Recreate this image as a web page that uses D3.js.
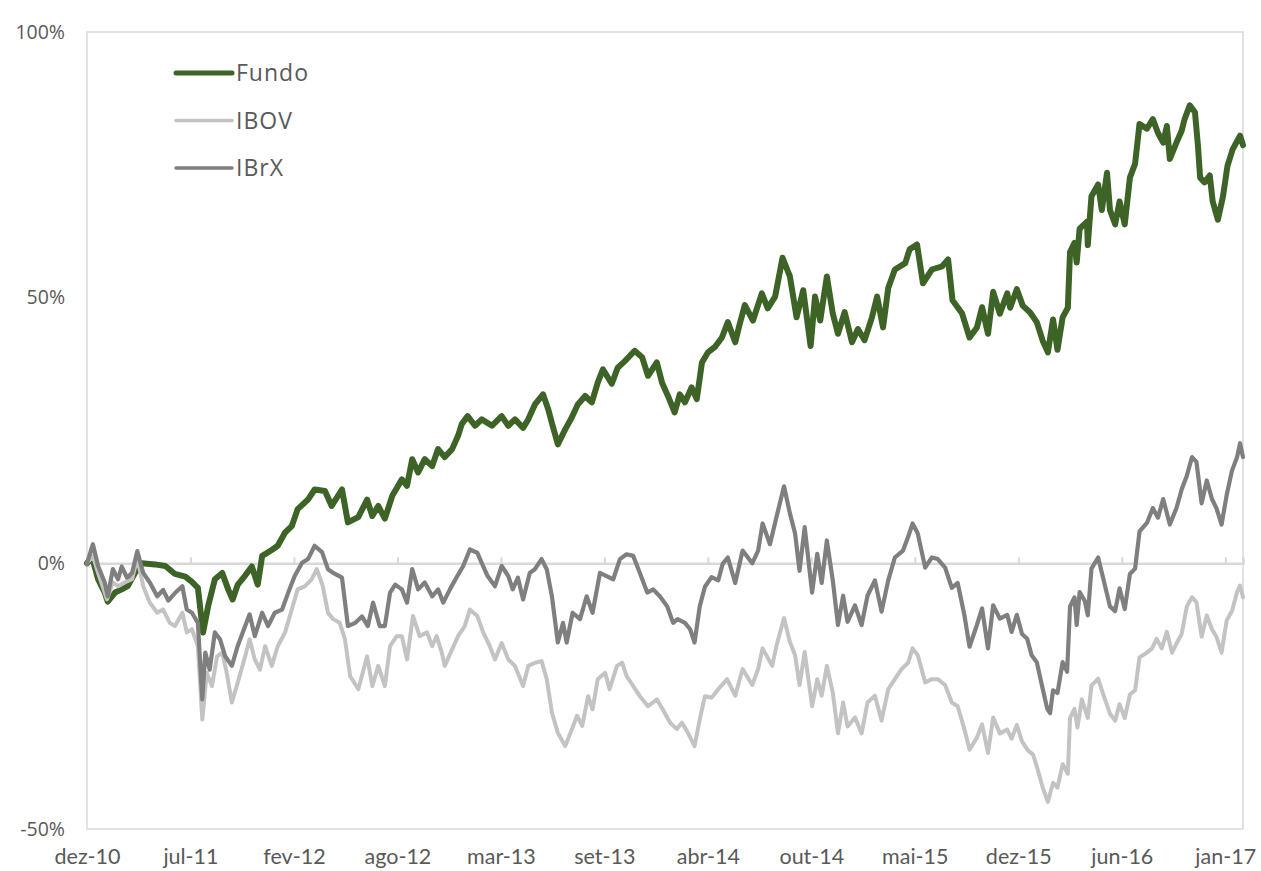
<!DOCTYPE html>
<html>
<head>
<meta charset="utf-8">
<script src="https://cdn.jsdelivr.net/npm/d3@7"></script>
<style>
  body { margin: 0; background: #fff; }
  text { font-family: Lato, "Open Sans", sans-serif; fill: #595959; }
</style>
</head>
<body>
<div id="chart"></div>
<script>
// labels of the x axis (one every 140 trading days)
var tickDays = [0, 140, 280, 420, 560, 700, 840, 980, 1120, 1260, 1400, 1540];
var tickLabels = ["dez-10", "jul-11", "fev-12", "ago-12", "mar-13", "set-13",
                  "abr-14", "out-14", "mai-15", "dez-15", "jun-16", "jan-17"];
var yTicks = [-50, 0, 50, 100];
var seriesNames = ["Fundo", "IBOV", "IBrX"];

// [trading day, accumulated return %]
var fundo = [
  [0,0],[7,1.1],[15,-3],[24,-5.5],[28,-7.2],[38,-5.5],[47,-4.9],[55,-4.3],[65,-1.8],[74,0],
  [92,-0.2],[106,-0.5],[119,-2],[133,-2.5],[142,-3.5],[150,-4.6],[157,-13],[164,-8],[173,-3],
  [183,-1.8],[191,-4.9],[197,-6.8],[204,-4],[214,-2.3],[223,-0.6],[231,-4],[237,1.4],[250,2.5],
  [258,3.3],[268,5.8],[277,7],[285,10.2],[299,12],[308,13.9],[322,13.6],[331,10.8],[345,13.9],
  [353,7.7],[367,8.7],[379,12],[386,8.9],[394,10.8],[403,8.4],[413,12.7],[426,15.8],[433,14.6],
  [440,19.6],[448,17.1],[457,19.6],[467,18.3],[475,21.5],[484,20],[494,21.5],[502,24],[507,26.2],
  [515,27.7],[525,25.9],[534,27.1],[548,25.9],[561,27.7],[570,25.9],[579,27.1],[590,25.5],
  [597,27.1],[606,29.9],[617,31.8],[624,29],[630,25.9],[637,22.4],[647,25.2],[656,27.5],
  [664,29.9],[674,31.5],[683,30.3],[691,34],[698,36.5],[710,33.8],[718,36.8],[728,38.1],
  [741,40],[751,38.8],[759,35.3],[771,37.8],[778,34],[786,31.5],[795,28.4],[802,31.8],
  [809,30.3],[818,33.1],[825,30.9],[832,37.8],[840,39.7],[850,40.8],[859,42.5],[867,45.4],
  [877,41.6],[883,45],[890,48.6],[901,45.7],[913,50.8],[921,48],[931,50.2],[941,57.5],[951,54],
  [960,46.3],[969,51.4],[979,40.9],[985,50.2],[992,45.7],[1001,54],[1009,47],[1016,43.2],
  [1025,47.3],[1035,41.6],[1043,44.1],[1052,42],[1062,46.3],[1069,50.2],[1077,44.4],[1084,51.8],
  [1093,55.3],[1107,56.5],[1113,59.1],[1123,60],[1131,52.7],[1143,55.3],[1157,55.9],[1165,57.2],
  [1171,49.5],[1184,47],[1194,42.5],[1204,44.4],[1211,48.2],[1219,43.2],[1226,51.1],[1235,47],
  [1245,50.8],[1249,48.1],[1258,51.6],[1266,48.5],[1276,47.2],[1285,45.4],[1293,41.9],[1300,39.7],
  [1307,45.9],[1313,40.2],[1320,46.3],[1327,48.1],[1330,58.6],[1336,60.3],[1339,56.6],[1343,63],
  [1353,64.3],[1354,59.9],[1359,69.1],[1368,71.3],[1373,66.5],[1380,73.5],[1384,66.5],[1391,63.8],
  [1397,68.1],[1404,63.8],[1411,72.6],[1418,75.2],[1424,82.7],[1434,81.8],[1442,83.6],[1449,81],
  [1456,79.2],[1461,82.3],[1465,76.1],[1474,79.2],[1481,81.4],[1485,83.6],[1492,86.2],[1499,84.9],
  [1503,78.7],[1506,72.6],[1512,71.7],[1519,73],[1523,68.1],[1530,64.7],[1537,69.1],[1543,74.8],
  [1550,77.9],[1560,80.5],[1564,78.7]
];

var ibov = [
  [0,0],[8,1.4],[15,-1.8],[27,-6.8],[35,-3.6],[42,-4.3],[51,-3.6],[61,-3],[68,1],[76,-4.3],
  [85,-7.4],[95,-9.3],[103,-8.7],[112,-11.2],[119,-11.8],[129,-9.3],[135,-13],[142,-12.4],
  [150,-15.6],[156,-29.4],[162,-20.6],[169,-23.1],[176,-17.5],[183,-16.8],[189,-20.6],[196,-26.2],
  [204,-22.4],[214,-17.5],[220,-14.3],[227,-18.1],[234,-20],[241,-15.6],[250,-19.3],[258,-15.6],
  [268,-13],[277,-8.7],[285,-4.9],[295,-4.3],[304,-3],[311,-1.1],[319,-4.3],[326,-9.3],[333,-10.5],
  [342,-11.2],[349,-14.3],[356,-21.2],[367,-23.7],[379,-17.5],[386,-23.1],[394,-19.3],[403,-23.1],
  [410,-15.6],[419,-13.7],[426,-13.7],[433,-18.1],[441,-9.9],[450,-13.7],[460,-13],[467,-15.6],
  [473,-13.7],[480,-16.8],[484,-19.3],[494,-16.2],[502,-13.7],[511,-11.8],[518,-8.7],[528,-9.9],
  [536,-13],[545,-15.6],[552,-18.1],[561,-15],[570,-18.1],[579,-19.3],[590,-23.1],[597,-19.3],
  [606,-18.7],[615,-18.4],[622,-21.8],[629,-28.1],[637,-31.9],[647,-34.4],[656,-31.2],[663,-28.7],
  [670,-30.6],[678,-25],[684,-27.5],[691,-21.8],[701,-20.6],[707,-23.7],[717,-19.3],[724,-18.7],
  [730,-21.2],[739,-23.1],[748,-25],[759,-26.9],[771,-25.6],[779,-27.5],[789,-30],[798,-31.2],
  [805,-30],[813,-31.9],[822,-34.4],[829,-29.4],[836,-25],[845,-25.3],[854,-23.7],[866,-21.8],
  [877,-24.9],[887,-19.9],[900,-22.9],[908,-19.9],[914,-16],[927,-19.3],[933,-15.4],[943,-10.3],
  [951,-14.8],[958,-17.3],[964,-22.9],[971,-16.7],[981,-26.9],[988,-21.8],[994,-24.9],[1001,-19.3],
  [1009,-24.3],[1016,-32],[1023,-26.2],[1029,-30.7],[1039,-29],[1048,-32],[1056,-26.2],[1066,-24.9],
  [1075,-29.6],[1084,-23.7],[1093,-21.8],[1102,-19.9],[1111,-18.7],[1117,-16],[1124,-17.3],
  [1134,-22.4],[1143,-21.8],[1151,-21.8],[1161,-22.9],[1170,-26.2],[1178,-26.9],[1187,-31.2],
  [1194,-35.1],[1204,-32.8],[1211,-30.3],[1219,-35.7],[1226,-29],[1235,-32],[1245,-31.3],[1251,-33],
  [1258,-30.4],[1265,-33.5],[1273,-35.2],[1280,-36],[1286,-38.7],[1293,-42.2],[1300,-44.9],
  [1307,-41.3],[1313,-42.2],[1320,-37.8],[1327,-39.6],[1330,-29.1],[1336,-27.4],[1340,-30.9],
  [1346,-25.6],[1354,-29.1],[1359,-23],[1368,-21.7],[1375,-24.7],[1384,-28.3],[1391,-29.6],
  [1397,-26.5],[1404,-29.1],[1411,-24.7],[1418,-23.9],[1424,-17.7],[1434,-16.8],[1441,-16],
  [1447,-14.2],[1454,-16],[1461,-12.9],[1468,-16.8],[1474,-15.1],[1481,-13.3],[1488,-8.1],
  [1495,-6.4],[1501,-7.3],[1508,-13.8],[1515,-9.8],[1522,-12.4],[1528,-13.8],[1535,-16.8],
  [1542,-10.7],[1549,-9],[1556,-5.4],[1560,-4.2],[1564,-6.4]
];

var ibrx = [
  [0,0],[8,3.6],[15,-0.5],[24,-3.6],[28,-6.2],[35,-1.1],[42,-3],[47,-0.6],[54,-2.7],[61,-1.8],
  [68,2.3],[76,-1.8],[85,-3.6],[95,-6.2],[103,-5],[110,-7],[119,-5.6],[129,-4.3],[135,-8.7],
  [142,-9.3],[150,-11.2],[156,-25.6],[160,-16.8],[166,-20],[173,-13],[180,-14.3],[187,-17.5],
  [196,-19.3],[204,-15.5],[214,-11.8],[220,-9.6],[227,-13.7],[237,-9.3],[245,-11.8],[254,-9.3],
  [264,-8.7],[272,-5.6],[281,-2.4],[291,0.1],[299,0.8],[308,3.3],[318,2.1],[326,-1.1],[333,-1.8],
  [345,-2.7],[353,-11.8],[363,-11.2],[372,-10],[380,-11.8],[387,-7.4],[396,-11.8],[403,-11.8],
  [410,-5.5],[417,-4],[426,-4.9],[433,-7.4],[440,-1.1],[448,-4.9],[457,-3.6],[467,-6.2],[475,-4.9],
  [482,-7.4],[491,-4.9],[501,-2.4],[509,-0.5],[518,2.6],[528,2],[534,0.1],[542,-2.4],[552,-4.3],
  [561,-0.5],[570,-2.4],[576,-4.9],[583,-2.7],[590,-6.8],[599,-1.8],[606,-1.1],[615,0.8],
  [622,-1.1],[629,-6.2],[637,-14.9],[644,-11.2],[649,-14.9],[657,-9.3],[667,-10.5],[676,-6.2],
  [684,-9.3],[694,-1.8],[703,-2.4],[712,-3],[721,0.8],[730,1.7],[739,1.4],[748,-1.8],[758,-5.5],
  [766,-4.9],[775,-6.2],[785,-8.1],[793,-11.2],[799,-10.5],[809,-11.2],[816,-12.4],[822,-14.9],
  [829,-8.1],[836,-4.4],[845,-2.6],[854,-3.2],[860,-0.1],[867,1.1],[877,-3.7],[887,2.4],[900,0],
  [908,2.4],[914,7.5],[924,3.6],[933,8.8],[943,14.5],[951,9.4],[958,5.6],[964,-1.4],[971,6.8],
  [981,-5.5],[988,1.8],[994,-3.7],[1001,4.3],[1009,-3.2],[1016,-11.6],[1023,-6.1],[1029,-11],
  [1039,-7.9],[1048,-11.6],[1056,-6.1],[1066,-3.2],[1075,-9.1],[1084,-3.2],[1093,1.1],[1104,2.4],
  [1111,5],[1117,7.5],[1124,5.6],[1134,-0.8],[1143,1.1],[1151,0.8],[1161,-0.8],[1170,-4.6],
  [1178,-3.7],[1187,-9.7],[1194,-15.7],[1204,-11.6],[1211,-8.5],[1219,-16],[1226,-7.9],[1235,-10.4],
  [1245,-9.7],[1251,-12.9],[1258,-9.7],[1265,-13.3],[1272,-14.2],[1278,-17.3],[1285,-18.6],
  [1292,-23],[1299,-27.3],[1303,-28.2],[1307,-23.9],[1313,-24.4],[1320,-18.6],[1326,-20.4],
  [1330,-8.1],[1336,-6.4],[1339,-11.6],[1343,-5.4],[1350,-7.1],[1354,-9.8],[1359,-1],[1368,1.1],
  [1375,-2.9],[1384,-8.1],[1391,-9],[1397,-4.7],[1404,-8.6],[1411,-2],[1418,-1],[1424,6],
  [1434,7.6],[1442,10.4],[1449,8.6],[1456,12.1],[1465,7.3],[1474,10.4],[1481,13.9],[1488,16.5],
  [1495,20],[1501,19.1],[1508,11.3],[1515,15.6],[1522,12.1],[1528,10.4],[1535,7.3],[1542,12.9],
  [1549,17.4],[1556,20],[1560,22.6],[1564,20]
];

var colors = {Fundo: "#3e6327", IBOV: "#c3c3c3", IBrX: "#7f7f7f"};
var widths = {Fundo: 6, IBOV: 4, IBrX: 4.2};

var margin = {top: 32, right: 18, bottom: 42, left: 87},
    width = 1261 - margin.left - margin.right,
    height = 871 - margin.top - margin.bottom;

var svg = d3.select("#chart")
  .append("svg")
    .attr("width", 1261)
    .attr("height", 871)
  .append("g")
    .attr("transform", "translate(" + margin.left + "," + margin.top + ")");

var x = d3.scaleLinear()
    .domain([0, d3.max(fundo, function(d) { return d[0]; })])
    .range([0, width]);

var y = d3.scaleLinear()
    .domain([-50, 100])
    .range([height, 0]);

// plot frame
svg.append("rect")
    .attr("x", 0).attr("y", 0)
    .attr("width", width).attr("height", height)
    .attr("fill", "none")
    .attr("stroke", "#d9d9d9")
    .attr("stroke-width", 1.5);

// Y axis labels
var yAxis = svg.append("g")
    .call(d3.axisLeft(y).tickValues(yTicks).tickSize(0).tickPadding(22)
      .tickFormat(function(d) { return d + "%"; }));
yAxis.select(".domain").remove();
yAxis.selectAll("text")
    .style("font-family", "'Open Sans', sans-serif")
    .style("font-size", "19.5px")
    .style("fill", "#595959");

// X axis labels at the bottom
var xAxis = svg.append("g")
    .attr("transform", "translate(0," + height + ")")
    .call(d3.axisBottom(x).tickValues(tickDays).tickSize(0).tickPadding(20)
      .tickFormat(function(d, i) { return tickLabels[i]; }));
xAxis.select(".domain").remove();
xAxis.selectAll("text").style("font-size", "21.5px").style("fill", "#595959");

// zero line with small tick marks
var zeroAxis = svg.append("g")
    .attr("transform", "translate(0," + y(0) + ")")
    .call(d3.axisTop(x).tickValues(tickDays).tickSize(6).tickFormat(""));
zeroAxis.select(".domain").attr("stroke", "#d9d9d9").attr("stroke-width", 2.5);
zeroAxis.selectAll("line").attr("stroke", "#d9d9d9").attr("stroke-width", 2);

var line = d3.line()
    .x(function(d) { return x(d[0]); })
    .y(function(d) { return y(d[1]); });

var allSeries = [fundo, ibov, ibrx];
allSeries.forEach(function(s, i) {
  var name = seriesNames[i];
  svg.append("path")
      .datum(s)
      .attr("fill", "none")
      .attr("stroke", colors[name])
      .attr("stroke-width", widths[name])
      .attr("stroke-linejoin", "round")
      .attr("stroke-linecap", "round")
      .attr("d", line);
});

// legend
var legend = svg.selectAll(".legend")
    .data(seriesNames)
    .enter()
    .append("g")
      .attr("transform", function(d, i) { return "translate(89," + (41 + i * 47.5) + ")"; });

legend.append("line")
    .attr("x1", 0).attr("x2", 56)
    .attr("stroke", function(d) { return colors[d]; })
    .attr("stroke-width", function(d) { return d == "Fundo" ? 5 : 3.5; })
    .attr("stroke-linecap", "round");

legend.append("text")
    .attr("x", 60)
    .attr("dy", "0.36em")
    .style("font-family", "'Open Sans', sans-serif")
    .style("font-size", "23px")
    .style("letter-spacing", "1px")
    .style("fill", "#595959")
    .text(function(d) { return d; });
</script>
</body>
</html>
